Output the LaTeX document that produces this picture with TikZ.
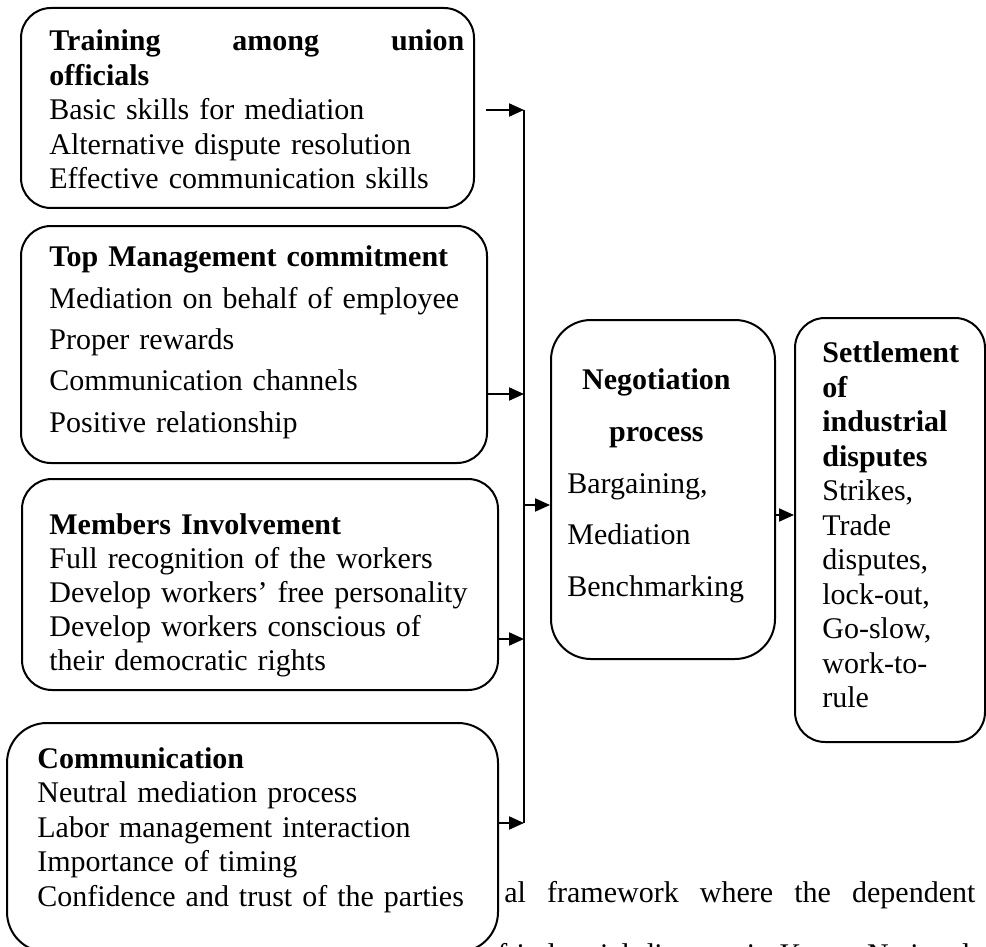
\documentclass[tikz,border=0pt]{standalone}
\usepackage{fontspec}
\setmainfont{Liberation Serif}
\usetikzlibrary{positioning,arrows.meta}

\begin{document}
\begin{tikzpicture}[
  x=0.5pt, y=-0.5pt,
  box/.style={draw, line width=1pt, rounded corners=15pt, fill=white, inner sep=0pt},
  boxtext/.style={inner sep=0pt, align=left, anchor=north west, font=\fontsize{15pt}{#1}\selectfont},
  bodytext/.style={inner sep=0pt, anchor=base west, font=\fontsize{15pt}{18pt}\selectfont},
  bus/.style={line width=1pt},
  arrow/.style={-{Triangle[length=7.5pt, width=6.5pt]}, line width=1pt}
]
\useasboundingbox (0,0) rectangle (986,947);

\node[bodytext] (capline) at (504,902) {\makebox[235.5pt][s]{al framework where the dependent}};
\node[bodytext] (nextline) at (497,964) {\makebox[236.5pt][s]{f industrial disputes in Kenya National}};

\node[box, minimum width=226.5pt, minimum height=100pt] (train) at (247.5,108) {};
\node[box, minimum width=233pt, minimum height=118.5pt] (mgmt) at (254,344.5) {};
\node[box, minimum width=238pt, minimum height=105.5pt] (members) at (260,584.5) {};
\node[box, rounded corners=20pt, minimum width=245.5pt, minimum height=114.5pt] (comm) at (252.5,837.5) {};
\node[box, rounded corners=20pt, minimum width=112pt, minimum height=169.5pt] (nego) at (663,489.5) {};
\node[box, minimum width=95pt, minimum height=212pt] (settle) at (890,530) {};

\node[boxtext=17.25pt, text width=207.5pt, below right=11.25pt and 14.5pt of train.north west] (traintext)
  {\hbox to 207.5pt{\textbf{Training}\hfill\textbf{among}\hfill\textbf{union}}\\
   \textbf{officials}\\
   Basic skills for mediation\\
   Alternative dispute resolution\\
   Effective communication skills};
\node[boxtext=20.7pt, text width=220pt, below right=10.25pt and 14.5pt of mgmt.north west] (mgmttext)
  {\textbf{Top Management commitment}\\
   Mediation on behalf of employee\\
   Proper rewards\\
   Communication channels\\
   Positive relationship};
\node[boxtext=17pt, text width=225pt, below right=17.75pt and 14pt of members.north west] (memberstext)
  {\textbf{Members Involvement}\\
   Full recognition of the workers\\
   Develop workers' free personality\\
   Develop workers conscious of\\
   their democratic rights};
\node[boxtext=17.25pt, text width=230pt, below right=12.5pt and 15.5pt of comm.north west] (commtext)
  {\textbf{Communication}\\
   Neutral mediation process\\
   Labor management interaction\\
   Importance of timing\\
   Confidence and trust of the parties};
\node[boxtext=25.875pt, text width=89pt, below right=24.75pt and 8.5pt of nego.north west] (negotext)
  {\makebox[\hsize][c]{\textbf{Negotiation}}\\
   \makebox[\hsize][c]{\textbf{process}}\\
   Bargaining,\\
   Mediation\\
   Benchmarking};
\node[boxtext=17.25pt, text width=75pt, below right=12.25pt and 14pt of settle.north west] (settletext)
  {\textbf{Settlement}\\ \textbf{of}\\ \textbf{industrial}\\ \textbf{disputes}\\
   Strikes,\\ Trade\\ disputes,\\ lock-out,\\ Go-slow,\\ work-to-\\ rule};

\coordinate (tap1) at (524,110);
\coordinate (tap2) at (524,394);
\coordinate (tap3) at (524,639);
\coordinate (tap4) at (524,823);
\coordinate (feed) at (524,505);

\draw[bus] (tap1) -- (tap4);
\draw[arrow] (train.east |- tap1) ++(11,0) -- (tap1);
\draw[arrow] (mgmt.east |- tap2) -- (tap2);
\draw[arrow] (members.east |- tap3) -- (tap3);
\draw[arrow] (comm.east |- tap4) -- (tap4);
\draw[arrow] (feed) -- (feed -| nego.west);
\draw[arrow] ([yshift=-12.75pt]nego.east) -- ([yshift=-12.75pt]nego.east -| settle.west);

\end{tikzpicture}
\end{document}
